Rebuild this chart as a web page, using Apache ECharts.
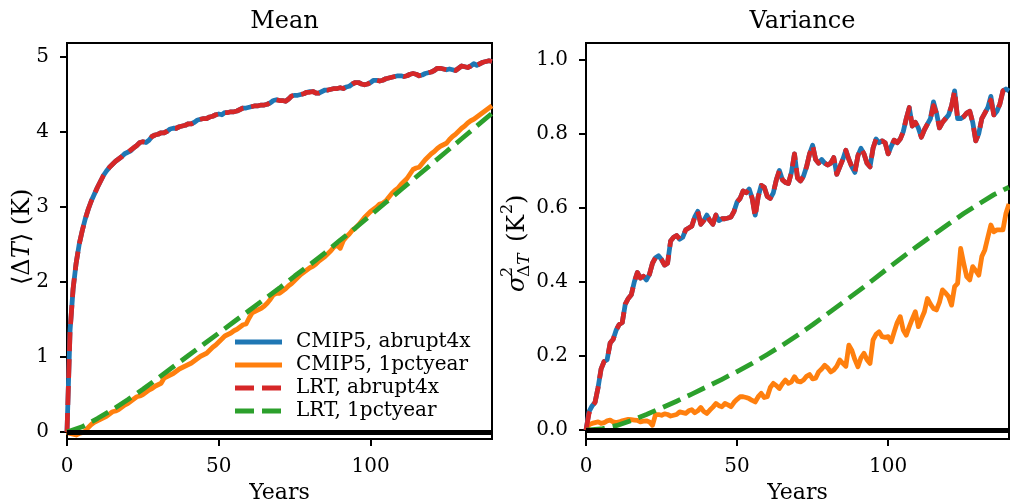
<!DOCTYPE html>
<html>
<head>
<meta charset="utf-8">
<title>Mean and variance of temperature response</title>
<script src="https://cdn.jsdelivr.net/npm/echarts@6/dist/echarts.min.js"></script>
<style>
  html, body { margin: 0; padding: 0; background: #fff; }
  #chart { width: 1010px; height: 502px; }
</style>
</head>
<body>
<div id="chart"></div>
<script>
// Years since forcing onset (annual means)
const years = [];
for (let y = 0; y <= 140; y++) years.push(y);
// Sparser grid on which the smooth LRT 1pctyear predictions are given
const lrtYears = [0, 5, 10, 15, 20, 25, 30, 35, 40, 45, 50, 55, 60, 65, 70,
  75, 80, 85, 90, 95, 100, 105, 110, 115, 120, 125, 130, 135, 140];

// Ensemble mean temperature change <ΔT> (K)
const meanCmipAbrupt = [
  0.00, 1.35, 1.90, 2.25, 2.50, 2.68, 2.84, 2.97, 3.08, 3.17,
  3.26, 3.34, 3.42, 3.48, 3.53, 3.57, 3.61, 3.64, 3.67, 3.71,
  3.73, 3.75, 3.79, 3.82, 3.86, 3.87, 3.86, 3.89, 3.94, 3.96,
  3.97, 3.99, 3.99, 4.01, 4.04, 4.05, 4.05, 4.07, 4.08, 4.09,
  4.11, 4.11, 4.13, 4.16, 4.17, 4.18, 4.18, 4.20, 4.21, 4.23,
  4.24, 4.23, 4.26, 4.26, 4.27, 4.27, 4.28, 4.30, 4.32, 4.32,
  4.33, 4.34, 4.35, 4.35, 4.36, 4.36, 4.37, 4.39, 4.42, 4.43,
  4.42, 4.42, 4.41, 4.44, 4.48, 4.49, 4.49, 4.50, 4.51, 4.53,
  4.54, 4.54, 4.52, 4.52, 4.54, 4.56, 4.56, 4.57, 4.58, 4.58,
  4.59, 4.58, 4.60, 4.61, 4.64, 4.66, 4.66, 4.64, 4.63, 4.64,
  4.66, 4.69, 4.69, 4.68, 4.69, 4.71, 4.72, 4.73, 4.74, 4.75,
  4.75, 4.74, 4.75, 4.77, 4.78, 4.77, 4.75, 4.76, 4.78, 4.79,
  4.80, 4.82, 4.85, 4.85, 4.84, 4.83, 4.84, 4.83, 4.82, 4.85,
  4.88, 4.87, 4.86, 4.88, 4.91, 4.89, 4.91, 4.93, 4.94, 4.95,
  4.94
];
const meanLrtAbrupt = [
  0.00, 1.34, 1.91, 2.25, 2.50, 2.68, 2.84, 2.97, 3.08, 3.17,
  3.26, 3.34, 3.42, 3.48, 3.53, 3.57, 3.61, 3.64, 3.67, 3.71,
  3.73, 3.76, 3.79, 3.82, 3.86, 3.87, 3.86, 3.89, 3.94, 3.96,
  3.97, 3.99, 3.99, 4.01, 4.04, 4.05, 4.05, 4.07, 4.08, 4.09,
  4.11, 4.11, 4.13, 4.16, 4.17, 4.18, 4.18, 4.20, 4.21, 4.23,
  4.24, 4.23, 4.26, 4.26, 4.27, 4.27, 4.28, 4.30, 4.32, 4.32,
  4.33, 4.34, 4.35, 4.35, 4.36, 4.36, 4.37, 4.39, 4.42, 4.43,
  4.42, 4.42, 4.41, 4.44, 4.48, 4.49, 4.49, 4.50, 4.51, 4.53,
  4.53, 4.54, 4.52, 4.52, 4.54, 4.56, 4.56, 4.57, 4.58, 4.58,
  4.59, 4.58, 4.60, 4.61, 4.64, 4.66, 4.66, 4.64, 4.63, 4.64,
  4.66, 4.69, 4.69, 4.68, 4.69, 4.71, 4.72, 4.73, 4.74, 4.75,
  4.75, 4.74, 4.75, 4.77, 4.78, 4.77, 4.75, 4.76, 4.78, 4.79,
  4.80, 4.82, 4.85, 4.85, 4.84, 4.83, 4.84, 4.83, 4.82, 4.85,
  4.88, 4.87, 4.86, 4.88, 4.91, 4.89, 4.91, 4.93, 4.94, 4.95,
  4.94
];
const meanCmip1pct = [
  0.00, -0.02, -0.03, -0.04, -0.02, -0.01, 0.01, 0.06, 0.10, 0.13,
  0.15, 0.17, 0.19, 0.21, 0.24, 0.27, 0.28, 0.30, 0.33, 0.36,
  0.38, 0.41, 0.44, 0.47, 0.48, 0.50, 0.53, 0.56, 0.58, 0.61,
  0.63, 0.65, 0.72, 0.74, 0.76, 0.78, 0.81, 0.84, 0.86, 0.88,
  0.90, 0.92, 0.95, 0.98, 1.01, 1.03, 1.05, 1.09, 1.13, 1.16,
  1.20, 1.24, 1.28, 1.30, 1.32, 1.35, 1.37, 1.40, 1.43, 1.44,
  1.52, 1.59, 1.61, 1.63, 1.65, 1.68, 1.72, 1.77, 1.83, 1.85,
  1.85, 1.88, 1.91, 1.95, 1.98, 2.02, 2.06, 2.10, 2.13, 2.16,
  2.19, 2.21, 2.24, 2.28, 2.31, 2.34, 2.38, 2.42, 2.47, 2.49,
  2.45, 2.55, 2.60, 2.64, 2.69, 2.72, 2.76, 2.81, 2.86, 2.90,
  2.94, 2.97, 3.00, 3.04, 3.05, 3.08, 3.13, 3.18, 3.22, 3.25,
  3.30, 3.34, 3.38, 3.44, 3.50, 3.52, 3.53, 3.58, 3.63, 3.67,
  3.71, 3.74, 3.78, 3.81, 3.83, 3.85, 3.90, 3.94, 3.97, 4.01,
  4.05, 4.08, 4.12, 4.15, 4.17, 4.20, 4.23, 4.26, 4.29, 4.32,
  4.35
];
const meanLrt1pct = [
  0.00, 0.07, 0.18, 0.30, 0.43, 0.57, 0.72, 0.87, 1.02, 1.17,
  1.32, 1.47, 1.62, 1.77, 1.92, 2.08, 2.23, 2.39, 2.56, 2.72,
  2.89, 3.06, 3.23, 3.40, 3.57, 3.74, 3.91, 4.08, 4.25
];

// Ensemble variance σ²_ΔT (K²)
const varCmipAbrupt = [
  0.000, 0.050, 0.065, 0.075, 0.115, 0.165, 0.185, 0.190, 0.235, 0.245,
  0.270, 0.285, 0.290, 0.340, 0.355, 0.365, 0.400, 0.425, 0.410, 0.415,
  0.405, 0.420, 0.450, 0.465, 0.470, 0.460, 0.445, 0.450, 0.510, 0.520,
  0.525, 0.515, 0.520, 0.540, 0.545, 0.550, 0.575, 0.590, 0.555, 0.565,
  0.580, 0.565, 0.555, 0.580, 0.565, 0.570, 0.570, 0.572, 0.575, 0.590,
  0.615, 0.625, 0.645, 0.640, 0.650, 0.625, 0.580, 0.630, 0.660, 0.655,
  0.630, 0.625, 0.640, 0.675, 0.700, 0.675, 0.668, 0.665, 0.695, 0.745,
  0.680, 0.672, 0.685, 0.710, 0.745, 0.768, 0.730, 0.720, 0.730, 0.720,
  0.715, 0.720, 0.735, 0.690, 0.710, 0.730, 0.755, 0.730, 0.710, 0.695,
  0.740, 0.760, 0.745, 0.720, 0.710, 0.760, 0.785, 0.775, 0.780, 0.775,
  0.745, 0.765, 0.782, 0.775, 0.785, 0.805, 0.840, 0.870, 0.820, 0.830,
  0.815, 0.790, 0.810, 0.825, 0.840, 0.885, 0.855, 0.815, 0.830, 0.840,
  0.850, 0.875, 0.915, 0.840, 0.840, 0.845, 0.855, 0.860, 0.830, 0.780,
  0.800, 0.840, 0.855, 0.870, 0.900, 0.850, 0.860, 0.880, 0.915, 0.920,
  0.915
];
const varLrtAbrupt = [
  0.000, 0.045, 0.062, 0.075, 0.115, 0.165, 0.185, 0.190, 0.235, 0.245,
  0.270, 0.285, 0.290, 0.340, 0.355, 0.365, 0.400, 0.425, 0.410, 0.415,
  0.405, 0.420, 0.450, 0.465, 0.470, 0.460, 0.445, 0.450, 0.510, 0.520,
  0.525, 0.515, 0.520, 0.540, 0.545, 0.550, 0.575, 0.590, 0.555, 0.565,
  0.580, 0.565, 0.555, 0.580, 0.565, 0.570, 0.570, 0.572, 0.575, 0.590,
  0.615, 0.625, 0.645, 0.640, 0.650, 0.625, 0.575, 0.630, 0.660, 0.655,
  0.630, 0.625, 0.640, 0.675, 0.700, 0.675, 0.668, 0.665, 0.695, 0.745,
  0.680, 0.672, 0.685, 0.710, 0.745, 0.768, 0.730, 0.720, 0.730, 0.720,
  0.715, 0.720, 0.735, 0.690, 0.710, 0.730, 0.755, 0.730, 0.710, 0.695,
  0.740, 0.760, 0.745, 0.720, 0.710, 0.760, 0.785, 0.775, 0.780, 0.775,
  0.745, 0.765, 0.782, 0.775, 0.785, 0.805, 0.840, 0.870, 0.820, 0.830,
  0.815, 0.790, 0.810, 0.825, 0.840, 0.875, 0.855, 0.815, 0.830, 0.840,
  0.850, 0.875, 0.915, 0.840, 0.840, 0.845, 0.855, 0.860, 0.830, 0.780,
  0.800, 0.840, 0.855, 0.870, 0.890, 0.850, 0.860, 0.880, 0.915, 0.920,
  0.910
];
const varCmip1pct = [
  0.000, 0.015, 0.018, 0.020, 0.022, 0.018, 0.020, 0.025, 0.027, 0.022,
  0.020, 0.022, 0.025, 0.027, 0.029, 0.028, 0.027, 0.026, 0.022, 0.024,
  0.025, 0.022, 0.013, 0.042, 0.042, 0.040, 0.044, 0.042, 0.038, 0.040,
  0.042, 0.049, 0.047, 0.045, 0.052, 0.055, 0.047, 0.052, 0.061, 0.050,
  0.045, 0.054, 0.062, 0.072, 0.066, 0.063, 0.072, 0.068, 0.063, 0.075,
  0.083, 0.090, 0.090, 0.088, 0.085, 0.080, 0.076, 0.090, 0.099, 0.088,
  0.090, 0.115, 0.126, 0.120, 0.112, 0.125, 0.135, 0.126, 0.130, 0.144,
  0.132, 0.130, 0.135, 0.145, 0.150, 0.138, 0.140, 0.157, 0.165, 0.175,
  0.168, 0.157, 0.162, 0.172, 0.189, 0.180, 0.172, 0.229, 0.215, 0.190,
  0.171, 0.195, 0.207, 0.190, 0.180, 0.243, 0.258, 0.265, 0.252, 0.250,
  0.252, 0.238, 0.265, 0.290, 0.306, 0.270, 0.256, 0.279, 0.300, 0.319,
  0.279, 0.300, 0.319, 0.355, 0.340, 0.328, 0.324, 0.345, 0.378, 0.370,
  0.360, 0.337, 0.387, 0.396, 0.490, 0.450, 0.414, 0.405, 0.441, 0.430,
  0.418, 0.468, 0.486, 0.520, 0.553, 0.535, 0.540, 0.540, 0.540, 0.585,
  0.610
];
const varLrt1pct = [
  0.000, 0.003, 0.012, 0.026, 0.042, 0.060, 0.078, 0.097, 0.117, 0.137,
  0.158, 0.180, 0.204, 0.229, 0.256, 0.284, 0.314, 0.344, 0.374, 0.405,
  0.437, 0.468, 0.498, 0.527, 0.556, 0.584, 0.610, 0.635, 0.655
];

const meanTicks = [0, 1, 2, 3, 4, 5];
const varTicks = [0, 0.2, 0.4, 0.6, 0.8, 1.0];
const yearTicks = [0, 50, 100];
const zeroLevel = 0;

const SERIF = '"DejaVu Serif", "Liberation Serif", serif';
const C_BLUE = '#1f77b4', C_ORANGE = '#ff7f0e', C_RED = '#d62728', C_GREEN = '#2ca02c';
const DASH = [19, 8];
const LW = 4.8;

// Legend key glyphs: a solid bar, and two dashes matching the dash pattern
const ICON_SOLID = 'path://M0,0H47V5H0Z';
const ICON_DASHED = 'path://M0,0H19V5H0Z M27,0H46V5H27Z M46,0H47V0.01H46Z';

const pairs = (xs, ys) => xs.map((x, i) => [x, ys[i]]);

function lineSeries(name, xs, ys, panel, color, dashed, extra) {
  return Object.assign({
    name: name,
    type: 'line',
    xAxisIndex: panel,
    yAxisIndex: panel,
    data: pairs(xs, ys),
    symbol: 'none',
    showSymbol: false,
    smooth: false,
    clip: true,
    color: color,
    lineStyle: { color: color, width: LW, type: dashed ? DASH : 'solid', cap: 'butt', join: 'round' },
    emphasis: { disabled: true },
    silent: true
  }, extra || {});
}

const zeroMark = {
  markLine: {
    silent: true,
    symbol: 'none',
    label: { show: false },
    lineStyle: { color: '#000', width: 5, type: 'solid' },
    data: [{ yAxis: zeroLevel }],
    animation: false
  }
};

function xAxisFor(panel) {
  return {
    type: 'value', gridIndex: panel, min: 0, max: 140,
    name: 'Years', nameLocation: 'middle', nameGap: 38,
    nameTextStyle: { fontFamily: SERIF, fontSize: 22, color: '#000' },
    axisLine: { show: true, onZero: false, lineStyle: { color: '#000', width: 2 } },
    axisTick: { show: true, inside: false, length: 7, customValues: yearTicks, lineStyle: { color: '#000', width: 2 } },
    axisLabel: { customValues: yearTicks, margin: 18, fontFamily: SERIF, fontSize: 20, color: '#000' },
    splitLine: { show: false }
  };
}

function yAxisFor(panel, min, max, ticks, fmt) {
  return {
    type: 'value', gridIndex: panel, min: min, max: max,
    axisLine: { show: true, onZero: false, lineStyle: { color: '#000', width: 2 } },
    axisTick: { show: true, inside: false, length: 7, customValues: ticks, lineStyle: { color: '#000', width: 2 } },
    axisLabel: { customValues: ticks, margin: 18, fontFamily: SERIF, fontSize: 20, color: '#000', formatter: fmt },
    splitLine: { show: false }
  };
}

const titleStyle = { fontFamily: SERIF, fontSize: 24, fontWeight: 'normal', color: '#000' };

const gridBase = {
  top: 43, height: 396, show: true, borderColor: '#000', borderWidth: 2,
  backgroundColor: 'transparent', containLabel: false, outerBoundsMode: 'none'
};

const option = {
  animation: false,
  backgroundColor: '#fff',
  title: [
    { text: 'Mean', left: 279.5, top: 5, textAlign: 'center', textStyle: titleStyle },
    { text: 'Variance', left: 797.5, top: 5, textAlign: 'center', textStyle: titleStyle }
  ],
  grid: [
    Object.assign({ left: 67, width: 425 }, gridBase),
    Object.assign({ left: 586, width: 423 }, gridBase)
  ],
  xAxis: [xAxisFor(0), xAxisFor(1)],
  yAxis: [
    yAxisFor(0, -0.093, 5.187, meanTicks, v => String(v)),
    yAxisFor(1, -0.024, 1.044, varTicks, v => v.toFixed(1))
  ],
  legend: {
    data: [
      { name: 'CMIP5, abrupt4x', icon: ICON_SOLID },
      { name: 'CMIP5, 1pctyear', icon: ICON_SOLID },
      { name: 'LRT, abrupt4x', icon: ICON_DASHED },
      { name: 'LRT, 1pctyear', icon: ICON_DASHED }
    ],
    orient: 'vertical',
    left: 230, top: 327,
    itemWidth: 47, itemHeight: 5, itemGap: 3,
    selectedMode: false,
    textStyle: { fontFamily: SERIF, fontSize: 20, color: '#000', padding: [0, 0, 0, 9] }
  },
  series: [
    lineSeries('CMIP5, abrupt4x', years, meanCmipAbrupt, 0, C_BLUE, false),
    lineSeries('CMIP5, 1pctyear', years, meanCmip1pct, 0, C_ORANGE, false),
    lineSeries('LRT, abrupt4x', years, meanLrtAbrupt, 0, C_RED, true),
    lineSeries('LRT, 1pctyear', lrtYears, meanLrt1pct, 0, C_GREEN, true, zeroMark),
    lineSeries('CMIP5, abrupt4x', years, varCmipAbrupt, 1, C_BLUE, false),
    lineSeries('CMIP5, 1pctyear', years, varCmip1pct, 1, C_ORANGE, false),
    lineSeries('LRT, abrupt4x', years, varLrtAbrupt, 1, C_RED, true),
    lineSeries('LRT, 1pctyear', lrtYears, varLrt1pct, 1, C_GREEN, true, zeroMark)
  ],
  graphic: [
    // ⟨ΔT⟩ (K), read bottom to top
    {
      type: 'text', x: 22.6, y: 285, rotation: Math.PI / 2, z: 100,
      style: {
        text: '{n|⟨Δ}{i|T}{n|⟩ (K)}',
        verticalAlign: 'middle', align: 'left',
        rich: {
          n: { fontFamily: SERIF, fontSize: 24, fill: '#000' },
          i: { fontFamily: SERIF, fontSize: 24, fontStyle: 'italic', fill: '#000' }
        }
      }
    },
    // σ²_ΔT (K²), read bottom to top
    {
      type: 'group', x: 526, y: 294, rotation: Math.PI / 2, z: 100,
      children: [
        { type: 'text', x: 2, y: -8.4, style: { text: 'σ', fontFamily: SERIF, fontSize: 24, fontStyle: 'italic', fill: '#000', verticalAlign: 'middle' } },
        { type: 'text', x: 17, y: -18.6, style: { text: '2', fontFamily: SERIF, fontSize: 16, fill: '#000', verticalAlign: 'middle' } },
        { type: 'text', x: 17, y: -1, style: {
            text: '{n|Δ}{i|T}', verticalAlign: 'middle',
            rich: {
              n: { fontFamily: SERIF, fontSize: 17, fill: '#000' },
              i: { fontFamily: SERIF, fontSize: 17, fontStyle: 'italic', fill: '#000' }
            } } },
        { type: 'text', x: 52, y: -8.4, style: { text: '(K', fontFamily: SERIF, fontSize: 24, fill: '#000', verticalAlign: 'middle' } },
        { type: 'text', x: 80, y: -18.6, style: { text: '2', fontFamily: SERIF, fontSize: 16, fill: '#000', verticalAlign: 'middle' } },
        { type: 'text', x: 90, y: -8.4, style: { text: ')', fontFamily: SERIF, fontSize: 24, fill: '#000', verticalAlign: 'middle' } }
      ]
    }
  ]
};

const chart = echarts.init(document.getElementById('chart'), null, { renderer: 'canvas' });
chart.setOption(option);
</script>
</body>
</html>
